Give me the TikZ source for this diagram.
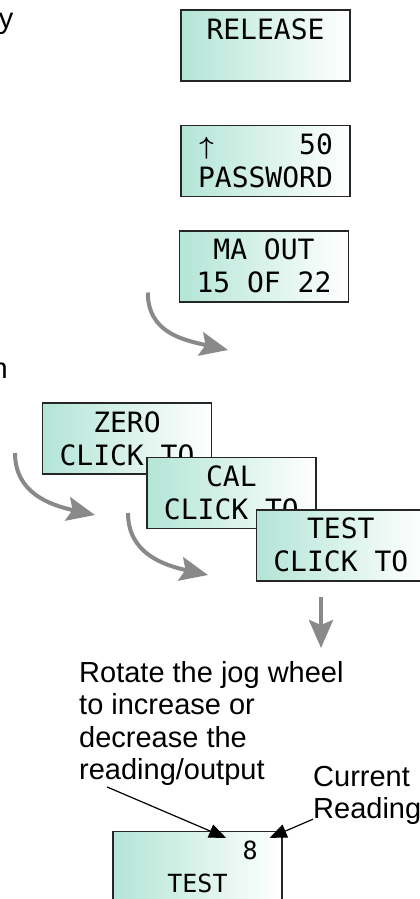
\documentclass[tikz,border=0pt]{standalone}
\usepackage{fontspec}
\usepackage{tikz}
\usetikzlibrary{arrows.meta,positioning,calc}
\newfontfamily\lcdfont{DejaVu Sans Mono}
\newfontfamily\notefont{Liberation Sans}
\definecolor{lcdteal}{HTML}{B3E5D6}
\definecolor{flowgray}{HTML}{898989}
\newcommand{\lcdup}{\makebox[0.602em][c]{\boldmath$\uparrow$}}

\begin{document}
\begin{tikzpicture}[%
    x=1pt, y=-1pt,
    >=Stealth,
    lcd/.style={rectangle, draw=black!85, line width=1.4pt, left color=lcdteal, right color=white,
      minimum width=169pt, minimum height=71pt, inner sep=0pt, align=center,
      font=\lcdfont\fontsize{28}{33}\selectfont},
    flowarrow/.style={draw=flowgray, line width=4pt, -{Stealth[length=28pt, width=24pt, inset=5pt]}},
    pointer/.style={draw=black, line width=1.2pt, -{Triangle[length=17pt, width=14pt]}},
    note/.style={inner sep=0pt, align=left, font=\notefont\fontsize{29}{32.5}\selectfont},
  ]
  \clip (0,0) rectangle (420,899);

  % --- cut-off words at the left edge ---
  \node[note, anchor=base east] (cuty) at (13.5,29) {y};
  \node[note, anchor=base east] (cutn) at (8,378) {n};

  % --- menu screens (top) ---
  \node[lcd] (rel) at (265.5,45.5) {RELEASE\\\phantom{X}};
  \node[lcd, below=43pt of rel] (pw) {\lcdup\phantom{00000}50\\PASSWORD};
  \node[lcd, below=33pt of pw, xshift=-1.5pt] (mao) {\phantom{0}MA OUT\phantom{0}\\15 OF 22};

  % --- calibration screens (cascade) ---
  \node[lcd] (zero) at (127,438.5) {ZERO\\CLICK TO};
  \node[lcd, below right=-18pt and -66pt of zero] (cal) {CAL\\CLICK TO};
  \node[lcd, below right=-20pt and -61pt of cal] (tst) {TEST\\CLICK TO};

  % --- adjust screen (bottom) ---
  \node[lcd, font=\lcdfont\fontsize{25}{33}\selectfont] (fin) at (197.5,867) {\phantom{0000000}8\\TEST};

  % Flow arrows
  \coordinate (a1s) at ($(mao.south west)+(-31,-10)$);
  \coordinate (a1e) at (228,350);
  \coordinate (a2s) at (15,453);
  \coordinate (a2e) at (95,515);
  \coordinate (a3s) at (128,513);
  \coordinate (a3e) at (208,575);
  \coordinate (dns) at (321,597);
  \coordinate (dne) at (321,648);

  \draw[flowarrow] (a1s) .. controls +(0,40) and +(-45,-10) .. (a1e);
  \draw[flowarrow] (a2s) .. controls +(0,40) and +(-45,-10) .. (a2e);
  \draw[flowarrow] (a3s) .. controls +(0,40) and +(-45,-10) .. (a3e);
  \draw[flowarrow] (dns) -- (dne);

  % Annotations
  \node[note, anchor=north west] (jog) at (79,661)
    {Rotate the jog wheel\\to increase or\\decrease the\\reading/output};
  \node[note, anchor=north west] (cur) at (313,766) {Current\\Reading};

  \coordinate (adjtip) at ($(fin.north)+(28.5,7)$);
  \coordinate (curtip) at ($(fin.north east)+(-13,7)$);
  \draw[pointer] ($(jog.south west)+(28,1)$) -- (adjtip);
  \draw[pointer] ($(cur.south west)+(0,-6)$) -- (curtip);
\end{tikzpicture}
\end{document}
